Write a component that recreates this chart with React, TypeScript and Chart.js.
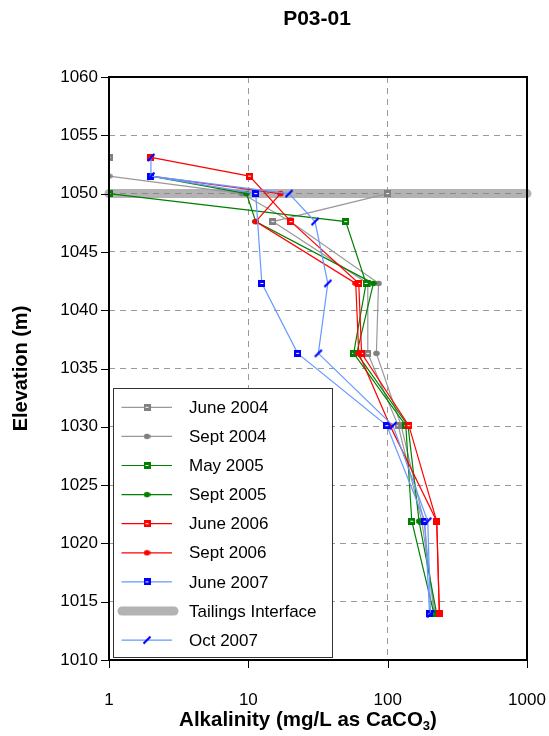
import React, { useEffect, useRef } from 'react';
import { Chart, registerables } from 'chart.js';

Chart.register(...registerables);

const FONT = '"Liberation Sans", Arial, Helvetica, sans-serif';

// Elevations of the sampling ports (m)
const elevations = [1053.1, 1051.5, 1050, 1047.6, 1042.3, 1036.3, 1030.1, 1021.9, 1013.95];

// Alkalinity (mg/L as CaCO3) per elevation; null = not sampled
const june2004 = [1, null, 100, 15, 72, 72, 119, 176, 219];
const sept2004 = [null, 1, 9, 20, 86, 83, 125, 182, 215];
const may2005 = [null, null, 1, 50, 70, 57, 135, 149, 215];
const sept2005 = [null, 2, 9.7, 11.3, 79, 60, 140, 168, 225];
const june2006 = [2, 10.2, null, 20.2, 62, 65, 142, 225, 235];
const sept2006 = [null, 2, 17, 11.3, 59, 62, 104, 225, 235];
const june2007 = [null, 2, 11.3, null, 12.5, 22.6, 98.6, 185, 200];
const oct2007 = [2, 2, 19.6, 30.1, 37.2, 31.8, 109, 194, 203];

const tailingsX = [1, 1000];
const tailingsY = [1050, 1050];

const xTicks = [1, 10, 100, 1000];
const yTicks = [1010, 1015, 1020, 1025, 1030, 1035, 1040, 1045, 1050, 1055, 1060];

const chartTitle = 'P03-01';
const yTitle = 'Elevation (m)';
const xTitleMain = 'Alkalinity (mg/L as CaCO';
const xTitleSub = '3';
const xTitleEnd = ')';

type MarkerKind = 'square' | 'circle' | 'slash' | 'none';
interface SeriesDef {
  label: string;
  values: (number | null)[] | null;
  line: string;
  width: number;
  marker: MarkerKind;
  mcolor: string;
  span: boolean;
}

const seriesDefs: SeriesDef[] = [
  { label: 'June 2004', values: june2004, line: '#999999', width: 1.2, marker: 'square', mcolor: '#808080', span: false },
  { label: 'Sept 2004', values: sept2004, line: '#999999', width: 1.2, marker: 'circle', mcolor: '#808080', span: true },
  { label: 'May 2005', values: may2005, line: '#008000', width: 1.2, marker: 'square', mcolor: '#008000', span: true },
  { label: 'Sept 2005', values: sept2005, line: '#008000', width: 1.2, marker: 'circle', mcolor: '#008000', span: true },
  { label: 'June 2006', values: june2006, line: '#FF0000', width: 1.2, marker: 'square', mcolor: '#FF0000', span: true },
  { label: 'Sept 2006', values: sept2006, line: '#FF0000', width: 1.2, marker: 'circle', mcolor: '#FF0000', span: true },
  { label: 'June 2007', values: june2007, line: '#6699FF', width: 1.2, marker: 'square', mcolor: '#0000FF', span: true },
  { label: 'Tailings Interface', values: null, line: 'rgba(128,128,128,0.6)', width: 9, marker: 'none', mcolor: '', span: true },
  { label: 'Oct 2007', values: oct2007, line: '#6699FF', width: 1.2, marker: 'slash', mcolor: '#0000FF', span: true },
];

function makeMarker(kind: MarkerKind, color: string): HTMLCanvasElement | null {
  if (kind === 'none') return null;
  const c = document.createElement('canvas');
  const g = c.getContext('2d')!;
  if (kind === 'square') {
    c.width = 7; c.height = 7;
    g.fillStyle = color; g.fillRect(0, 0, 7, 7);
    g.fillStyle = '#ffffff'; g.fillRect(2, 3, 3, 1);
  } else if (kind === 'circle') {
    c.width = 7; c.height = 7;
    g.fillStyle = color; g.beginPath(); g.ellipse(3.5, 3.5, 3.3, 2.8, 0, 0, Math.PI * 2); g.fill();
  } else {
    c.width = 10; c.height = 10;
    g.strokeStyle = color; g.lineWidth = 2.2; g.beginPath(); g.moveTo(1.5, 8.5); g.lineTo(8.5, 1.5); g.stroke();
  }
  return c;
}

export default function App() {
  const ref = useRef<HTMLCanvasElement | null>(null);

  useEffect(() => {
    if (!ref.current) return;
    const markers = seriesDefs.map((s) => makeMarker(s.marker, s.mcolor));

    const datasets: any[] = seriesDefs.map((s, i) => {
      if (s.values === null) {
        return {
          label: s.label,
          data: tailingsX.map((x, k) => ({ x, y: tailingsY[k] })),
          showLine: true,
          borderColor: s.line,
          backgroundColor: s.line,
          borderWidth: s.width,
          borderCapStyle: 'round',
          pointRadius: 0,
          clip: false,
          order: 100,
        };
      }
      return {
        label: s.label,
        data: elevations.map((e, k) => ({ x: s.values![k], y: e })),
        showLine: true,
        spanGaps: s.span,
        borderColor: s.line,
        backgroundColor: s.mcolor,
        borderWidth: s.width,
        pointStyle: markers[i],
        pointRadius: 4,
        order: -i,
      };
    });

    const decor = {
      id: 'decor',
      afterDraw(chart: any) {
        const ctx = chart.ctx as CanvasRenderingContext2D;
        const { left, right, top, bottom } = chart.chartArea;
        const xs = chart.scales.x;
        const ys = chart.scales.y;
        ctx.save();
        // tick marks
        ctx.strokeStyle = '#000';
        ctx.lineWidth = 1;
        ctx.beginPath();
        yTicks.forEach((v) => {
          const py = Math.round(ys.getPixelForValue(v)) + 0.5;
          ctx.moveTo(left - 8, py); ctx.lineTo(left, py);
        });
        xTicks.forEach((v) => {
          const px = Math.round(xs.getPixelForValue(v)) + 0.5;
          ctx.moveTo(px, bottom); ctx.lineTo(px, bottom + 8);
        });
        ctx.stroke();
        // frame
        ctx.lineWidth = 2;
        ctx.strokeRect(left, top, right - left, bottom - top);

        // legend
        const lx = left + 4, ly = top + 311, lw = 219, lh = 269;
        ctx.fillStyle = '#ffffff';
        ctx.fillRect(lx, ly, lw, lh);
        ctx.lineWidth = 1;
        ctx.strokeStyle = '#333';
        ctx.strokeRect(lx + 0.5, ly + 0.5, lw, lh);
        ctx.font = `17px ${FONT}`;
        ctx.textBaseline = 'middle';
        ctx.textAlign = 'left';
        seriesDefs.forEach((s, i) => {
          const cy = ly + 19.3 + i * 29.1;
          ctx.strokeStyle = s.line;
          ctx.lineWidth = s.width;
          if (s.values === null) {
            ctx.lineCap = 'round';
            ctx.beginPath(); ctx.moveTo(lx + 9, cy); ctx.lineTo(lx + 61, cy); ctx.stroke();
            ctx.lineCap = 'butt';
          } else {
            ctx.beginPath(); ctx.moveTo(lx + 8.5, cy); ctx.lineTo(lx + 59, cy); ctx.stroke();
            const m = markers[i];
            if (m) ctx.drawImage(m, lx + 34 - m.width / 2, cy - m.height / 2);
          }
          ctx.fillStyle = '#000';
          ctx.fillText(s.label, lx + 76, cy + 1);
        });

        // titles
        const cx = (left + right) / 2;
        ctx.fillStyle = '#000';
        ctx.textAlign = 'center';
        ctx.textBaseline = 'middle';
        ctx.font = `bold 21px ${FONT}`;
        ctx.fillText(chartTitle, cx - 1, 19);

        ctx.font = `bold 20px ${FONT}`;
        ctx.save();
        ctx.translate(21, (top + bottom) / 2);
        ctx.rotate(-Math.PI / 2);
        ctx.fillText(yTitle, 0, 0);
        ctx.restore();

        // x title with subscript
        const bigFont = `bold 20.5px ${FONT}`;
        const subFont = `bold 13px ${FONT}`;
        ctx.font = bigFont;
        const w1 = ctx.measureText(xTitleMain).width;
        const w3 = ctx.measureText(xTitleEnd).width;
        ctx.font = subFont;
        const w2 = ctx.measureText(xTitleSub).width;
        const total = w1 + w2 + w3;
        let x0 = cx - 10 - total / 2;
        const ty = 719;
        ctx.textAlign = 'left';
        ctx.textBaseline = 'alphabetic';
        ctx.font = bigFont;
        ctx.fillText(xTitleMain, x0, ty + 7);
        x0 += w1;
        ctx.font = subFont;
        ctx.fillText(xTitleSub, x0, ty + 11);
        x0 += w2;
        ctx.font = bigFont;
        ctx.fillText(xTitleEnd, x0, ty + 7);
        ctx.restore();
      },
    };

    const chart = new Chart(ref.current, {
      type: 'scatter',
      data: { datasets },
      options: {
        animation: false,
        responsive: false,
        devicePixelRatio: 1,
        layout: { padding: { top: 77, right: 22, left: 0, bottom: 0 } },
        plugins: {
          legend: { display: false },
          tooltip: { enabled: false },
          title: { display: false },
        },
        scales: {
          x: {
            type: 'logarithmic',
            min: 1,
            max: 1000,
            position: 'bottom',
            afterBuildTicks: (s: any) => { s.ticks = xTicks.map((v) => ({ value: v })); },
            afterFit: (s: any) => { s.height = 76; s.paddingLeft = 0; s.paddingRight = 0; },
            ticks: {
              callback: (v: any) => String(v),
              font: { size: 17, family: FONT },
              color: '#000',
              padding: 30,
              maxRotation: 0,
              autoSkip: false,
            },
            grid: { color: '#9a9a9a', lineWidth: 1, drawTicks: false },
            border: { display: false, dash: [6, 5] },
          },
          y: {
            type: 'linear',
            min: 1010,
            max: 1060,
            afterBuildTicks: (s: any) => { s.ticks = yTicks.map((v) => ({ value: v })); },
            afterFit: (s: any) => { s.width = 109; s.paddingTop = 0; s.paddingBottom = 0; },
            ticks: {
              callback: (v: any) => String(v),
              font: { size: 17, family: FONT },
              color: '#000',
              padding: 11,
            },
            grid: { color: '#9a9a9a', lineWidth: 1, drawTicks: false },
            border: { display: false, dash: [6, 5] },
          },
        },
      } as any,
      plugins: [decor],
    });
    return () => chart.destroy();
  }, []);

  return (
    <div style={{ position: 'absolute', left: 0, top: 0, width: 549, height: 736, background: '#fff' }}>
      <canvas ref={ref} width={549} height={736} style={{ display: 'block', width: 549, height: 736 }} />
    </div>
  );
}
